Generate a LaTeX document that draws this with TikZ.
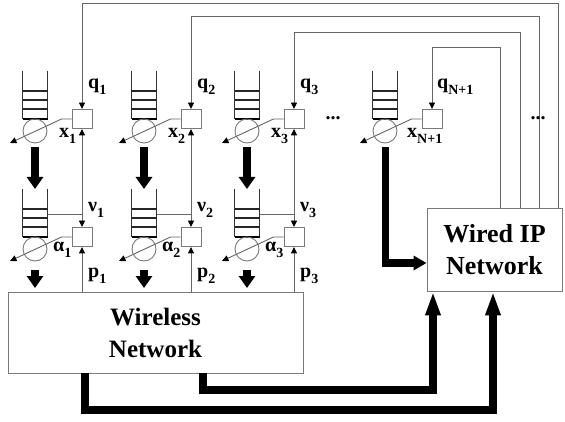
\documentclass[tikz,border=0pt]{standalone}
\usepackage{fontspec}
\setmainfont{Liberation Serif}
\usetikzlibrary{arrows.meta}
\definecolor{ln}{gray}{0.4}
\definecolor{bx}{gray}{0.48}
\newcommand\sub[1]{\raisebox{-0.3em}{\fontsize{14}{14}\selectfont #1}}
\begin{document}
\begin{tikzpicture}[x=1pt,y=-1pt,
  thinline/.style={draw=ln, line width=0.9pt},
  tarr/.style={thinline, -{Triangle[width=6pt,length=6.5pt,color=black]}},
  ctrlbox/.style={draw=bx, line width=0.9pt, minimum width=20pt, minimum height=19pt, inner sep=0pt},
  server/.style={circle, draw=bx, line width=0.9pt, minimum size=24pt, inner sep=0pt},
  net/.style={draw=bx, line width=0.9pt, inner sep=0pt, font=\fontsize{25}{32}\selectfont\bfseries, align=center},
  lab/.style={font=\fontsize{20}{20}\selectfont\bfseries, inner sep=0pt, anchor=west},
  downarrow/.style={line width=8pt, -{Triangle[width=16pt,length=12pt]}},
  feedarrow/.style={line width=7pt, line join=miter, -{Triangle[width=14pt,length=13pt]}},
  netarrow/.style={line width=8pt, line join=miter, -{Triangle[width=14pt,length=24pt]}},
  queue/.pic={
    \draw[line width=1.1pt, black!80] (-12.5,-48) -- (-12.5,0) (12.5,-48) -- (12.5,0);
    \draw[line width=1.1pt, black!85] (-12.5,-28) -- (12.5,-28) (-12.5,-19) -- (12.5,-19) (-12.5,-10) -- (12.5,-10);
    \draw[line width=2pt, black] (-12.5,0) -- (12.5,0);
  }
]
\useasboundingbox (0,0) rectangle (565,422);

% networks
\node[net, minimum width=295pt, minimum height=81pt] (wireless) at (155.5,332.5) {Wireless\\Network};
\node[net, minimum width=135pt, minimum height=83pt, font=\fontsize{26}{32}\selectfont\bfseries] (wired) at (494.5,249.5) {Wired IP\\Network};

% upper row units (queue centre, box centre)
\foreach \i/\bxc in {1/82, 2/191, 3/294, 4/432}{
  \pgfmathsetmacro{\qc}{\bxc-47}
  \pic at (\qc,119) {queue};
  \node[server] (su\i) at (\qc,131) {};
  \node[ctrlbox] (x\i) at (\bxc,119) {};
  \coordinate (du\i) at (\qc-25,143);
  \draw[tarr] (x\i.west) -- ++(-10,0) -- (du\i);
}

% lower row units
\foreach \i/\bxc in {1/82, 2/191, 3/294}{
  \pgfmathsetmacro{\qc}{\bxc-47}
  \pic at (\qc,237) {queue};
  \node[server] (sl\i) at (\qc,249) {};
  \node[ctrlbox] (a\i) at (\bxc,237) {};
  \coordinate (dl\i) at (\qc-25,261);
  \draw[tarr] (a\i.west) -- ++(-10,0) -- (dl\i);
  \coordinate (nq\i) at (\qc+12.5,214);
  \coordinate (nj\i) at (\bxc,214);
  \draw[thinline] (nq\i) -- (nj\i);
  \draw[tarr] (nj\i) -- (a\i.north);
  \draw[tarr] (nj\i) -- (x\i.south);
  \draw[tarr] (wireless.north -| a\i) -- (a\i.south);
  \coordinate (tu\i) at (\qc,147);
  \coordinate (tl\i) at (\qc,189);
  \draw[downarrow] (tu\i) -- (tl\i);
  \coordinate (tb\i) at (\qc,270);
  \coordinate (tw\i) at (\qc,288);
  \draw[downarrow] (tb\i) -- (tw\i);
}

% unit N+1 to wired network
\coordinate (tu4) at (385,147);
\coordinate (turn4) at (385,263);
\draw[feedarrow] (tu4) -- (turn4) -- (wired.west |- turn4);

% feedback lines from wired network
\foreach \i/\fx/\fy in {1/558/3, 2/539/16, 3/520/32, 4/500/47}{
  \coordinate (f\i) at (\fx,\fy);
  \draw[tarr] (wired.north -| f\i) -- (f\i) -| (x\i.north);
}

% wireless to wired thick links
\coordinate (b1) at (85,410);
\coordinate (b1r) at (493,410);
\draw[netarrow] (wireless.south -| b1) -- (b1) -- (b1r) -- (wired.south -| b1r);
\coordinate (b2) at (203,390);
\coordinate (b2r) at (433,390);
\draw[netarrow] (wireless.south -| b2) -- (b2) -- (b2r) -- (wired.south -| b2r);

% labels
\node[lab] (lq1) at (88,87) {q\sub{1}};
\node[lab] (lq2) at (197,87) {q\sub{2}};
\node[lab] (lq3) at (300,87) {q\sub{3}};
\node[lab] (lq4) at (437,87) {q\sub{N+1}};
\node[lab] (lx1) at (59,136) {x\sub{1}};
\node[lab] (lx2) at (168,136) {x\sub{2}};
\node[lab] (lx3) at (271,136) {x\sub{3}};
\node[lab] (lx4) at (407,136) {x\sub{N+1}};
\node[lab] (ln1) at (88,210) {ν\sub{1}};
\node[lab] (ln2) at (197,210) {ν\sub{2}};
\node[lab] (ln3) at (300,210) {ν\sub{3}};
\node[lab] (la1) at (53,250) {α\sub{1}};
\node[lab] (la2) at (162,250) {α\sub{2}};
\node[lab] (la3) at (265,250) {α\sub{3}};
\node[lab] (lp1) at (88,276) {p\sub{1}};
\node[lab] (lp2) at (197,276) {p\sub{2}};
\node[lab] (lp3) at (300,276) {p\sub{3}};
\node[font=\fontsize{20}{20}\selectfont\bfseries, inner sep=0pt] (dots1) at (333,118) {...};
\node[font=\fontsize{20}{20}\selectfont\bfseries, inner sep=0pt] (dots2) at (538,118) {...};
\end{tikzpicture}
\end{document}
